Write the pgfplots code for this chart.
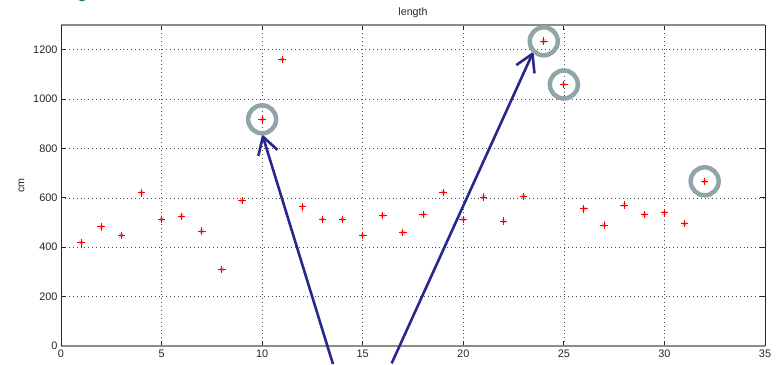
\documentclass[border=0pt]{standalone}
\usepackage{pgfplots}
\pgfplotsset{compat=1.18}
\usepackage{fontspec}
\setmainfont{Liberation Sans}
\usetikzlibrary{arrows.meta}
\definecolor{navyarrow}{HTML}{28288C}
\definecolor{ringgray}{HTML}{8FA5A7}
\definecolor{blobgreen}{HTML}{2E7A5A}
\begin{document}
\begin{tikzpicture}[x=1pt,y=1pt]
\useasboundingbox (0,0) rectangle (778,364);
\clip (0,0) rectangle (778,364);
\fill[blobgreen] (82,368) circle (5.5);
\begin{axis}[
  at={(61pt,18pt)}, anchor=south west,
  width=704pt, height=321pt, scale only axis,
  xmin=0, xmax=35, ymin=0, ymax=1300,
  xtick={0,5,...,35}, ytick={0,200,...,1200},
  separate axis lines,
  axis x line=box, axis y line=box,
  x axis line style={black!45, line width=1.4pt},
  y axis line style={black!85, line width=0.9pt},
  tick align=inside, major tick length=5pt,
  tick style={black!85, line width=0.8pt},
  grid=major,
  major grid style={black!70, line width=0.6pt, dash pattern=on 0.9pt off 3pt},
  /pgf/number format/assume math mode=true,
  /pgf/number format/set thousands separator={},
  tick label style={font=\fontsize{10.9}{12}\selectfont, text=black!85},
  title={length},
  title style={font=\fontsize{10.7}{12}\selectfont, text=black!85, at={(axis description cs:0.5,1)}, anchor=base, yshift=3pt},
  ylabel={cm},
  ylabel style={font=\fontsize{10.7}{12}\selectfont, text=black!85, at={(axis description cs:0,0.5)}, anchor=center, yshift=39.5pt},
  clip=false,
]
\addplot[only marks, mark=x, mark size=2.7pt, mark options={draw=red!45, line width=0.8pt}] table {
x y
1 418
2 482
3 448
4 620
5 513
6 525
7 465
8 310
9 589
10 918
11 1160
12 563
13 513
14 513
15 447
16 529
17 459
18 532
19 622
20 513
21 603
22 506
23 606
24 1234
25 1059
26 556
27 489
28 571
29 532
30 539
31 496
32 667
};
\addplot[only marks, mark=+, mark size=3.8pt, mark options={draw=red, line width=1pt}] table {
x y
1 418
2 482
3 448
4 620
5 513
6 525
7 465
8 310
9 589
10 918
11 1160
12 563
13 513
14 513
15 447
16 529
17 459
18 532
19 622
20 513
21 603
22 506
23 606
24 1234
25 1059
26 556
27 489
28 571
29 532
30 539
31 496
32 667
};
\addplot[only marks, mark=o, mark size=14pt, mark options={draw=ringgray, line width=4.5pt}] coordinates {
(10,918) (24,1234) (25,1059) (32,667)
};
\draw[navyarrow, line width=2.6pt, -{Straight Barb[length=17pt,width=20pt]}] (axis cs:13.52,-73) -- (axis cs:10.0,858);
\draw[navyarrow, line width=2.6pt, -{Straight Barb[length=17pt,width=20pt]}] (axis cs:16.44,-70) -- (axis cs:23.49,1193);
\end{axis}
\end{tikzpicture}
\end{document}
